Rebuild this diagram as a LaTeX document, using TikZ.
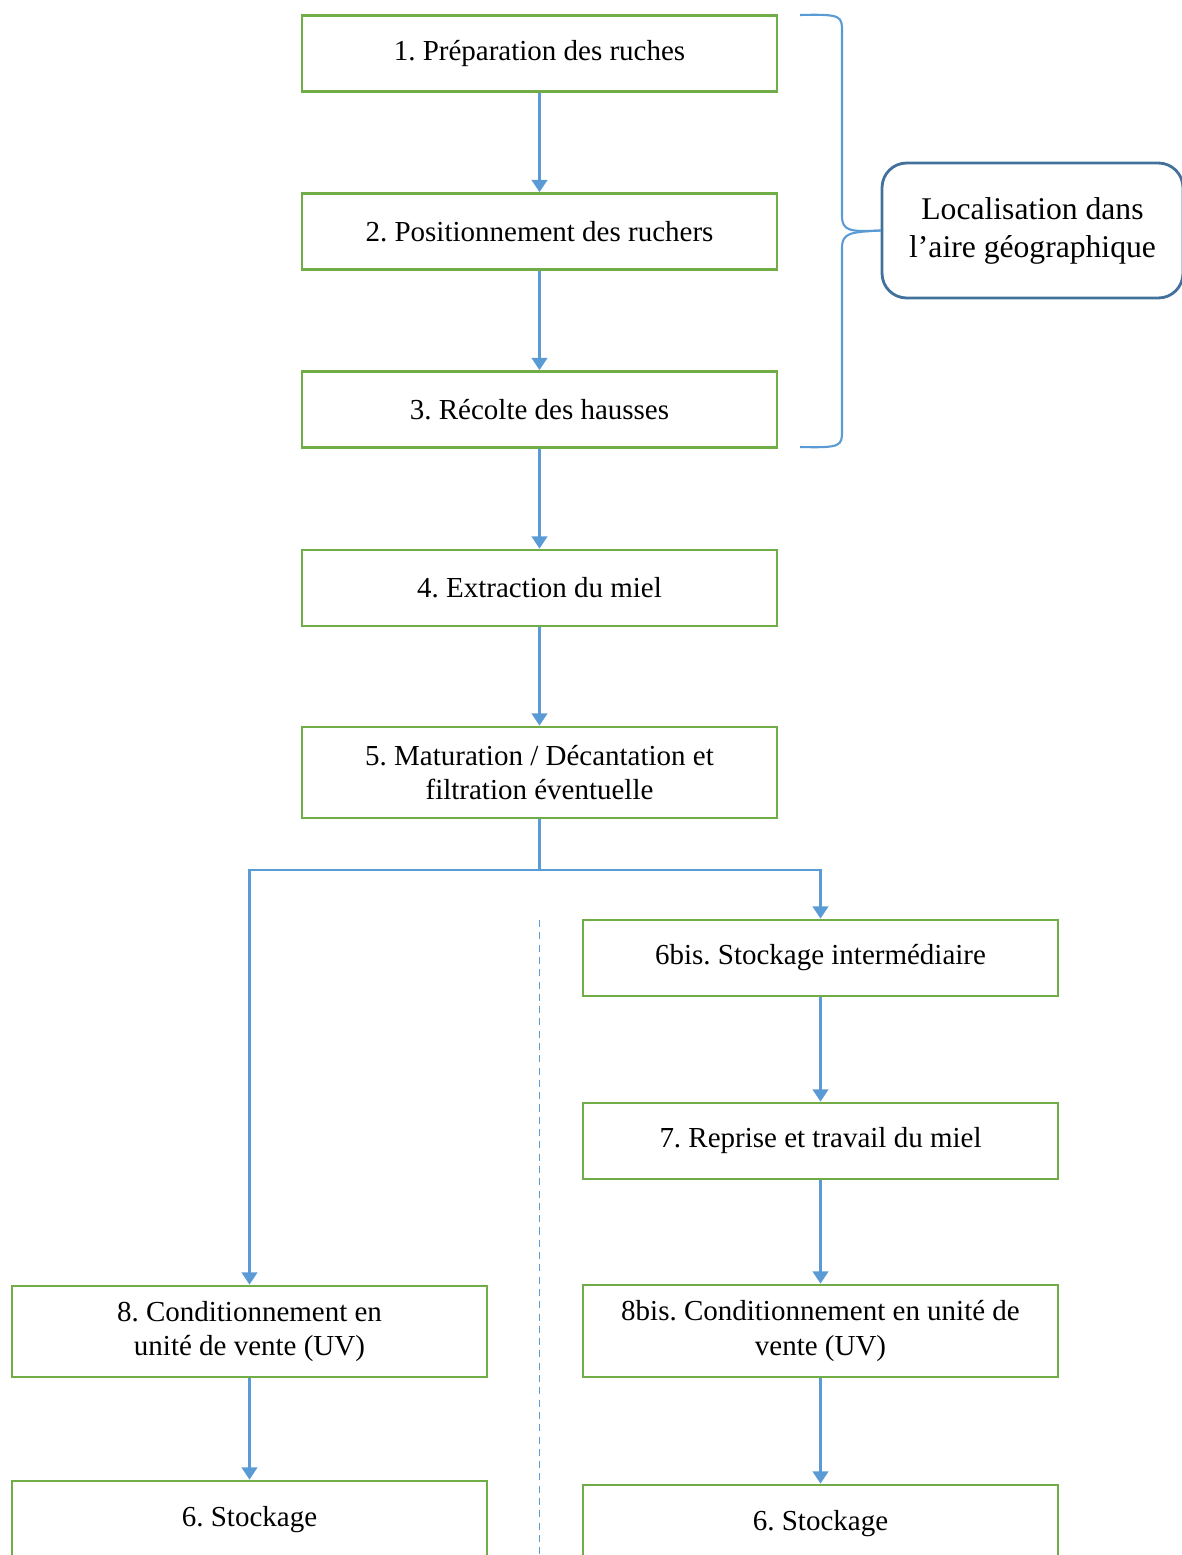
\documentclass[tikz,border=0pt]{standalone}
\usepackage{fontspec}
\setmainfont{Liberation Serif}
\usepackage{tikz}
\usetikzlibrary{arrows.meta, positioning}
\definecolor{vert}{HTML}{70AD47}
\definecolor{bleu}{HTML}{5B9BD5}
\definecolor{bleufonce}{HTML}{41719C}
\frenchspacing

\begin{document}
\begin{tikzpicture}[x=0.02cm, y=-0.02cm,
  etape/.style={draw=vert, line width=1.6pt, minimum width=9.5cm, minimum height=1.52cm,
                inner sep=0pt, align=center, font=\fontsize{16.5}{19.8}\selectfont},
  fleche/.style={-{Triangle[width=9pt,length=7pt]}, bleu, line width=1.2pt}]
\useasboundingbox (0,0) rectangle (1182,1555);
\clip (0,0) rectangle (1182,1555);

% Etapes communes
\node[etape] (n1) at (539.5,53.5) {1. Préparation des ruches};
\node[etape] (n2) at (539.5,231.5) {2. Positionnement des ruchers};
\node[etape] (n3) at (539.5,409.5) {3. Récolte des hausses};
\node[etape] (n4) at (539.5,588) {4. Extraction du miel};
\node[etape, minimum height=1.82cm] (n5) at (539.5,772.5) {5. Maturation / Décantation et\\filtration éventuelle};

% Branche droite
\node[etape] (n6bis) at (820.5,958) {6bis. Stockage intermédiaire};
\node[etape] (n7) at (820.5,1141) {7. Reprise et travail du miel};
\node[etape, minimum height=1.84cm] (n8bis) at (820.5,1331) {8bis. Conditionnement en unité de\\vente (UV)};
\node[etape, minimum height=1.56cm] (n6r) at (820.5,1524) {6. Stockage};

% Branche gauche
\node[etape, minimum height=1.82cm] (n8) at (249.5,1331.5) {8. Conditionnement en\\unité de vente (UV)};
\node[etape, minimum height=1.56cm] (n6l) at (249.5,1520) {6. Stockage};

% Localisation
\node[draw=bleufonce, line width=1.6pt, rounded corners=14pt, minimum width=6.02cm, minimum height=2.7cm,
      align=center, font=\fontsize{18}{21.6}\selectfont] (loc) at (1032.5,230.5) {Localisation dans\\l'aire géographique};

\draw[fleche] (n1) -- (n2);
\draw[fleche] (n2) -- (n3);
\draw[fleche] (n3) -- (n4);
\draw[fleche] (n4) -- (n5);
\coordinate (split) at (539.5,870);
\draw[bleu, line width=1.2pt] (n5) -- (split);
\draw[fleche] (split) -| (n8);
\draw[fleche] (split) -| (n6bis);
\draw[fleche] (n6bis) -- (n7);
\draw[fleche] (n7) -- (n8bis);
\draw[fleche] (n8bis) -- (n6r);
\draw[fleche] (n8) -- (n6l);

% Separation
\coordinate (sep1) at (539.5,920);
\coordinate (sep2) at (539.5,1560);
\draw[bleu, line width=1pt, dash pattern=on 4pt off 3pt] (sep1) -- (sep2);

% Accolade
\coordinate (acc1) at (800,15);
\coordinate (acc2) at (800,447);
\draw[bleu, line width=1.2pt] (acc1) .. controls (842,14) and (842,16) .. (842,32) -- (842,216)
  .. controls (842,231) and (850,232) .. (loc.west);
\draw[bleu, line width=1.2pt] (loc.west) .. controls (850,232) and (842,233) .. (842,248) -- (842,430)
  .. controls (842,446) and (842,448) .. (acc2);
\end{tikzpicture}
\end{document}
